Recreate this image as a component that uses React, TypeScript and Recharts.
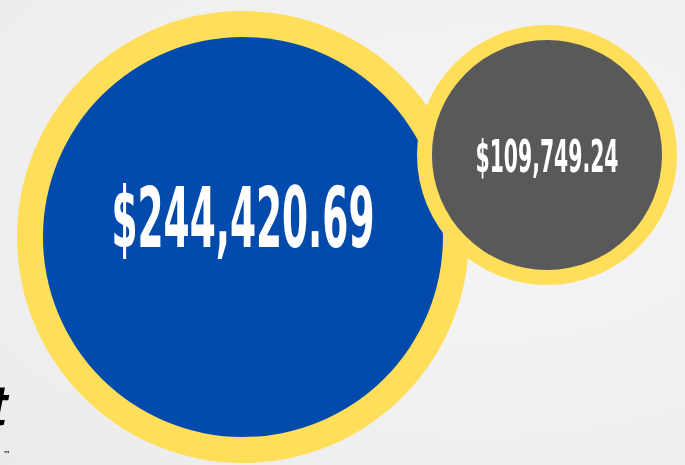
import { ScatterChart, Scatter, XAxis, YAxis, ZAxis } from "recharts";

// Two bubbles: total amount (big, blue) and the second amount (small, grey).
const labels = ["$244,420.69", "$109,749.24"];
const amounts = [244420.69, 109749.24];
const xPos = [35.47, 79.85];
const yPos = [49.03, 66.67];

const data = amounts.map((value, i) => ({
  name: labels[i],
  value,
  x: xPos[i],
  y: yPos[i],
}));

const W = 685;
const H = 465;

const C = {
  bg: "#f1f0f1",
  ring: "#FFDE59",
  fills: ["#024BAC", "#595959"],
  text: "#ffffff",
} as const;

// per-bubble label style: font size, baseline offset from centre, text width
const LABEL = [
  { fontSize: 83, dy: 10, width: 263 },
  { fontSize: 44, dy: 17, width: 143 },
];

const FONT =
  "'Liberation Sans Narrow', 'DejaVu Sans Condensed', 'Roboto', sans-serif";

function Bubble(props: any) {
  const { cx, cy, width, index } = props;
  const r = width / 2;
  const inner = r * 0.885;
  const lab = LABEL[index] ?? LABEL[0];
  return (
    <g>
      <circle cx={cx} cy={cy} r={r} fill={C.ring} />
      <circle cx={cx} cy={cy} r={inner} fill={C.fills[index] ?? C.fills[0]} />
      <text
        x={cx}
        y={cy + lab.dy}
        textAnchor="middle"
        fill={C.text}
        fontFamily={FONT}
        fontWeight={700}
        fontSize={lab.fontSize}
        textLength={lab.width}
        lengthAdjust="spacingAndGlyphs"
      >
        {props.payload.name}
      </text>
    </g>
  );
}

export default function App() {
  return (
    <div
      style={{
        position: "fixed",
        left: 0,
        top: 0,
        width: W,
        height: H,
        overflow: "hidden",
        background: `radial-gradient(ellipse at 70% 40%, #f6f5f6 0%, ${C.bg} 60%, #ecebec 100%)`,
      }}
    >
      <ScatterChart
        width={W}
        height={H}
        margin={{ top: 0, right: 0, bottom: 0, left: 0 }}
      >
        <XAxis type="number" dataKey="x" domain={[0, 100]} hide />
        <YAxis type="number" dataKey="y" domain={[0, 100]} hide />
        <ZAxis
          type="number"
          dataKey="value"
          domain={[109749.24, 244420.69]}
          range={[53093, 160460]}
        />
        <Scatter
          data={data}
          shape={Bubble}
          isAnimationActive={false}
        />
      </ScatterChart>

      {/* cut-off logo mark in the lower left corner */}
      <div
        style={{
          position: "absolute",
          left: -12,
          top: 376,
          fontFamily: "'Liberation Sans', sans-serif",
          fontStyle: "italic",
          fontWeight: 700,
          fontSize: 58,
          lineHeight: "58px",
          color: "#000",
        }}
      >
        t
      </div>
      <div
        style={{
          position: "absolute",
          left: 3,
          top: 450,
          fontFamily: "'DejaVu Sans', sans-serif",
          fontSize: 8,
          color: "#000",
        }}
      >
        ™
      </div>
    </div>
  );
}
